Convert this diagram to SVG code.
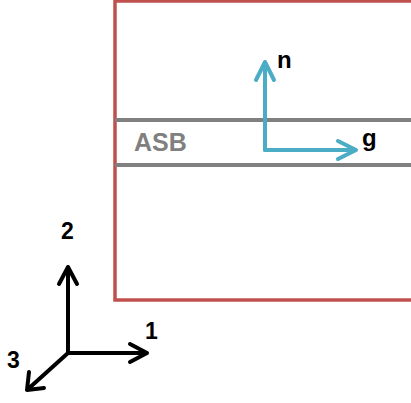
<svg xmlns="http://www.w3.org/2000/svg" width="411" height="403" viewBox="0 0 411 403">
<defs>
<style>
.lbl{font-family:"Liberation Sans",Arial,sans-serif;font-weight:bold;fill:#000}
.blue{stroke:#4bacc6;stroke-width:4;fill:none;stroke-linecap:round;stroke-linejoin:round}
.blk{stroke:#000;stroke-width:4;fill:none;stroke-linecap:round;stroke-linejoin:round}
.gray{stroke:#808080;stroke-width:4}
.shadow{stroke:#000;stroke-opacity:0.12;stroke-width:3}
</style>
<filter id="blur" x="-5%" y="-200%" width="110%" height="500%"><feGaussianBlur stdDeviation="1.5"/></filter>
</defs>
<g id="box">
<rect x="115" y="1" width="310" height="299" fill="#fff" stroke="#c0504d" stroke-width="3.5"/>
</g>
<g id="asb">
<line class="shadow" x1="115" y1="123" x2="411" y2="123" filter="url(#blur)"/>
<line class="shadow" x1="115" y1="168" x2="411" y2="168" filter="url(#blur)"/>
<line class="gray" x1="115" y1="120" x2="411" y2="120"/>
<line class="gray" x1="115" y1="165" x2="411" y2="165"/>
<text x="134" y="151" font-family="Liberation Sans,Arial,sans-serif" font-weight="bold" font-size="25" fill="#808080">ASB</text>
</g>
<g id="connectors">
<path class="blue" d="M265,150 V62 M256,80 L265,62 L274,80"/>
<path class="blue" d="M265,150 H355 M338,141 L356,150 L338,159"/>
<path class="blk" d="M68,353 V267 M59,284 L68,267 L77,284"/>
<path class="blk" d="M68,353 H147 M130,344 L147,353 L130,362"/>
<path class="blk" d="M68,353 L27,390 M29,372 L27,390 L44,388"/>
</g>
<g id="labels">
<text class="lbl" x="277" y="68" font-size="24">n</text>
<text class="lbl" x="362" y="146" font-size="24">g</text>
<text class="lbl" x="61" y="239" font-size="23">2</text>
<text class="lbl" x="145" y="339" font-size="23">1</text>
<text class="lbl" x="7" y="368" font-size="23">3</text>
</g>
</svg>
